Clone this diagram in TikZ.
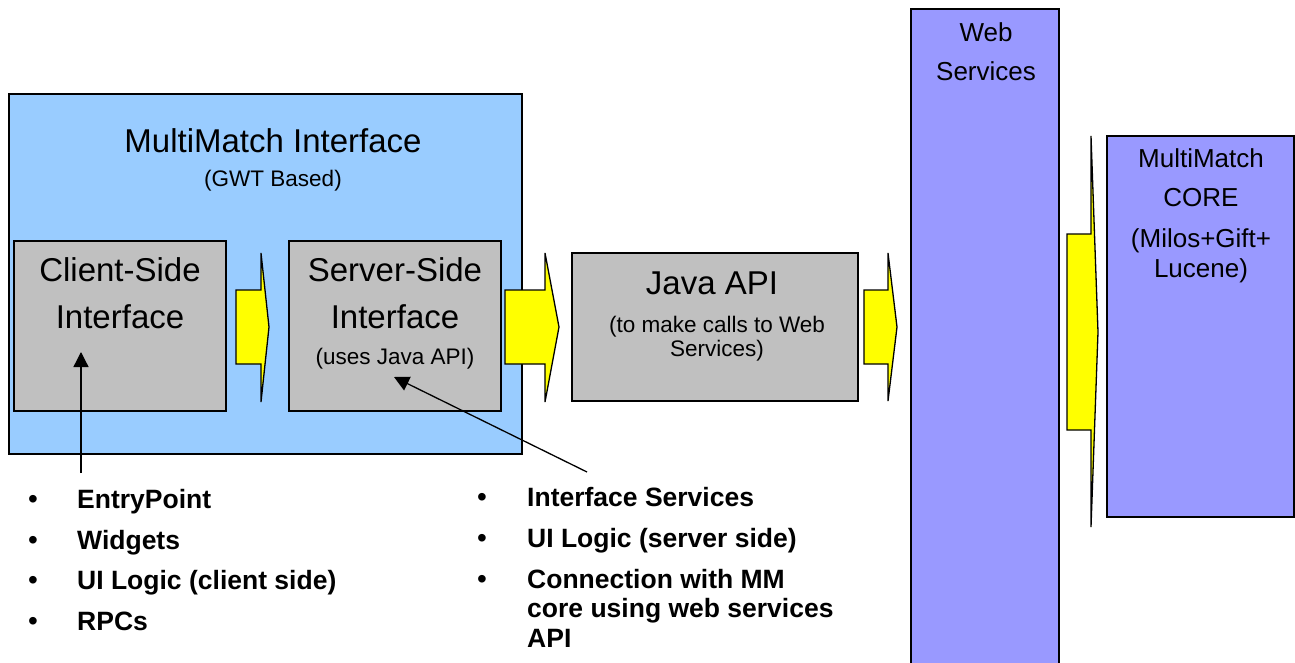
\documentclass[tikz,border=0pt]{standalone}
\usepackage{fontspec}
\setmainfont{Liberation Sans}
\usetikzlibrary{arrows.meta}
\definecolor{ifaceblue}{HTML}{99CCFF}
\definecolor{boxgray}{HTML}{C0C0C0}
\definecolor{svcviolet}{HTML}{9999FF}
\definecolor{flowyellow}{HTML}{FFFF00}
\begin{document}
\begin{tikzpicture}[x=1pt,y=-1pt,
  box/.style={draw=black, line width=1.3pt, inner sep=0pt, outer sep=0pt, anchor=north west},
  flow/.style={draw=black, fill=flowyellow, line width=1.3pt, line join=miter},
  big/.style={font=\fontsize{33}{38}\selectfont, anchor=base, inner sep=0pt},
  small/.style={font=\fontsize{22.5}{26}\selectfont, anchor=base, inner sep=0pt},
  mid/.style={font=\fontsize{26}{30}\selectfont, anchor=base, inner sep=0pt},
  item/.style={font=\fontsize{26.5}{30}\selectfont\bfseries, anchor=base west, inner sep=0pt},
  dot/.style={font=\fontsize{28}{30}\selectfont, anchor=base, inner sep=0pt},
  pointer/.style={line width=1.3pt, -{Triangle[length=15pt,width=15pt]}}]
\useasboundingbox (0,0) rectangle (1295,663);

% boxes
\node[box, fill=ifaceblue, minimum width=513pt, minimum height=360pt] (iface) at (9,94) {};
\node[box, fill=boxgray, minimum width=212pt, minimum height=170pt] (client) at (14,241) {};
\node[box, fill=boxgray, minimum width=212pt, minimum height=170pt] (server) at (289,241) {};
\node[box, fill=boxgray, minimum width=286pt, minimum height=148pt] (java) at (572,253) {};
\node[box, fill=svcviolet, minimum width=148pt, minimum height=662pt] (web) at (911,9) {};
\node[box, fill=svcviolet, minimum width=187pt, minimum height=381pt] (core) at (1107,136) {};

% block arrows between the stages
\draw[flow] (236,290) -- (261,290) -- (261,253) -- (269,327) -- (261,402) -- (261,364) -- (236,364) -- cycle;
\draw[flow] (505,290) -- (545,290) -- (545,253) -- (559,327) -- (545,402) -- (545,364) -- (505,364) -- cycle;
\draw[flow] (864,290) -- (888,290) -- (888,253) -- (897,327) -- (888,401) -- (888,364) -- (864,364) -- cycle;
\draw[flow] (1067,234) -- (1091,234) -- (1091,136) -- (1098,332) -- (1091,527) -- (1091,430) -- (1067,430) -- cycle;

% box labels
\node[big] (ifacetitle) at (273,153) {MultiMatch Interface};
\node[small] (ifacesub) at (273,187) {(GWT Based)};
\node[big] (cl1) at (120,281) {Client-Side};
\node[big] (cl2) at (120,328) {Interface};
\node[big] (sv1) at (395,281) {Server-Side};
\node[big] (sv2) at (395,328) {Interface};
\node[small] (sv3) at (395,364) {(uses Java API)};
\node[big] (ja1) at (712,294) {Java API};
\node[small] (ja2) at (717,332) {(to make calls to Web};
\node[small] (ja3) at (717,356) {Services)};
\node[mid] (ws1) at (986,42) {Web};
\node[mid] (ws2) at (986,81) {Services};
\node[mid] (co1) at (1201,168) {MultiMatch};
\node[mid] (co2) at (1201,207) {CORE};
\node[mid] (co3) at (1201,247) {(Milos+Gift+};
\node[mid] (co4) at (1201,277) {Lucene)};

% client-side responsibilities
\node[dot] (b1) at (33,508) {•};
\node[item] (i1) at (77,508) {EntryPoint};
\node[dot] (b2) at (33,549) {•};
\node[item] (i2) at (77,549) {Widgets};
\node[dot] (b3) at (33,589) {•};
\node[item] (i3) at (77,589) {UI Logic (client side)};
\node[dot] (b4) at (33,630) {•};
\node[item] (i4) at (77,630) {RPCs};

% server-side responsibilities
\node[dot] (b5) at (482,506) {•};
\node[item] (i5) at (527,506) {Interface Services};
\node[dot] (b6) at (482,547) {•};
\node[item] (i6) at (527,547) {UI Logic (server side)};
\node[dot] (b7) at (482,588) {•};
\node[item] (i7) at (527,588) {Connection with MM};
\node[item] (i7b) at (527,617) {core using web services};
\node[item] (i7c) at (527,647) {API};

% pointers from the lists into the boxes
\coordinate (p1tail) at (81,473);
\coordinate (p1tip) at (81,352);
\coordinate (p2tail) at (587,472);
\coordinate (p2tip) at (394,377);
\draw[pointer] (p1tail) -- (p1tip);
\draw[pointer] (p2tail) -- (p2tip);
\end{tikzpicture}
\end{document}
